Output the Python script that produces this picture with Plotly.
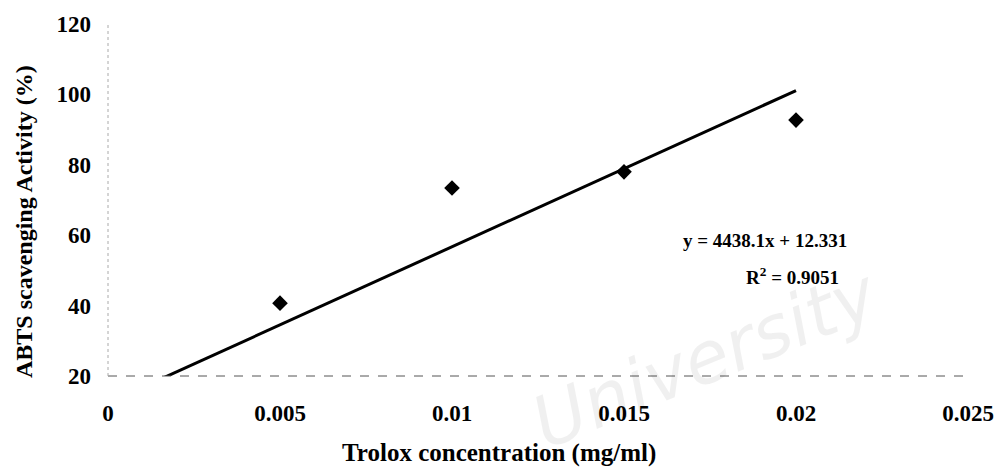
import plotly.graph_objects as go

# Trolox standard curve (ABTS assay)
conc = [0.005, 0.01, 0.015, 0.02]
activity = [40.7, 73.4, 78.0, 92.7]

slope = 4438.1
intercept = 12.331
r_squared = 0.9051

x_ticks = [0, 0.005, 0.01, 0.015, 0.02, 0.025]
x_tick_text = ["0", "0.005", "0.01", "0.015", "0.02", "0.025"]
y_ticks = [20, 40, 60, 80, 100, 120]

serif = "Liberation Serif"

# linear trend line over the data range (clipped at the axis floor)
trend_x = [0, conc[-1]]
trend_y = [slope * v + intercept for v in trend_x]

fig = go.Figure()
fig.add_trace(go.Scatter(
    x=trend_x, y=trend_y, mode="lines",
    line=dict(color="black", width=3), hoverinfo="skip",
))
fig.add_trace(go.Scatter(
    x=conc, y=activity, mode="markers",
    marker=dict(symbol="diamond", size=12, color="black"),
    cliponaxis=False,
))

# faint dashed axis lines
fig.add_shape(type="line", xref="x domain", yref="y domain",
              x0=0, x1=1, y0=0, y1=0,
              line=dict(color="#555", width=1, dash="dash"))
fig.add_shape(type="line", xref="x domain", yref="y domain",
              x0=0, x1=0, y0=0, y1=1,
              line=dict(color="#aaa", width=1, dash="dot"))

fig.add_annotation(
    x=0.0191, y=58.4, xref="x", yref="y", showarrow=False,
    text=f"<b>y = {slope}x + {intercept}</b>",
    font=dict(family=serif, size=19, color="black"),
)
fig.add_annotation(
    x=0.0199, y=48.4, xref="x", yref="y", showarrow=False,
    text=f"<b>R<sup>2</sup> = {r_squared}</b>",
    font=dict(family=serif, size=19, color="black"),
)

# axis titles
fig.add_annotation(
    x=0.455, y=0, xref="paper", yref="paper", yshift=-77,
    xanchor="center", yanchor="middle", showarrow=False,
    text="<b>Trolox concentration (mg/ml)</b>",
    font=dict(family=serif, size=25, color="black"),
)
fig.add_annotation(
    x=0, y=0.4375, xref="paper", yref="paper", xshift=-84,
    xanchor="center", yanchor="middle", showarrow=False, textangle=-90,
    text="<b>ABTS scavenging Activity (%)</b>",
    font=dict(family=serif, size=24, color="black"),
)

# watermark
fig.add_annotation(
    x=0.695, y=0.05, xref="paper", yref="paper", showarrow=False,
    xanchor="center", yanchor="middle",
    text="<i>University</i>", textangle=-22,
    font=dict(family="DejaVu Sans", size=72, color="rgba(0,0,0,0.06)"),
)

fig.update_layout(
    width=1006, height=472,
    margin=dict(l=108, r=36, t=24, b=96),
    paper_bgcolor="white", plot_bgcolor="white",
    showlegend=False,
    font=dict(family=serif, color="black"),
    xaxis=dict(
        range=[0, 0.025], tickvals=x_ticks, ticktext=x_tick_text,
        showgrid=False, zeroline=False, showline=False,
        ticks="", ticklabelstandoff=21,
        tickfont=dict(family=serif, size=23, weight="bold"),
    ),
    yaxis=dict(
        range=[20, 120], tickvals=y_ticks,
        showgrid=False, zeroline=False, showline=False,
        ticks="", ticklabelstandoff=16,
        tickfont=dict(family=serif, size=23, weight="bold"),
    ),
)

fig.write_html("out.html")
